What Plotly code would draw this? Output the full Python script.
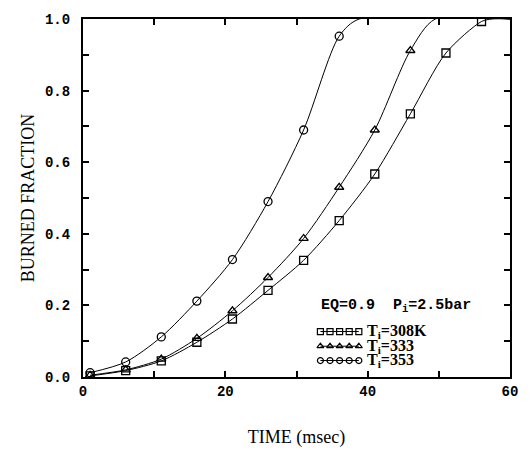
import numpy as np
import plotly.graph_objects as go

# ---- data ----
t_pts = [1, 6, 11, 16, 21, 26, 31, 36, 41, 46, 51, 56]
bf_308 = [0.003, 0.018, 0.045, 0.097, 0.162, 0.242, 0.326, 0.437, 0.567, 0.735, 0.905, 0.993]
bf_333 = [0.005, 0.020, 0.050, 0.108, 0.185, 0.278, 0.387, 0.530, 0.690, 0.912]
bf_353 = [0.012, 0.042, 0.112, 0.212, 0.328, 0.490, 0.690, 0.952]
# times where each curve reaches complete burn (1.0)
t_end = {"308": 57.5, "333": 49.5, "353": 38.8}

series = [
    ("308", bf_308, "square-open", "T<sub>i</sub>=308K"),
    ("333", bf_333, "triangle-up-open", "T<sub>i</sub>=333"),
    ("353", bf_353, "circle-open", "T<sub>i</sub>=353"),
]

x_ticks = [0, 20, 40, 60]
y_ticks = [0.0, 0.2, 0.4, 0.6, 0.8, 1.0]

fig = go.Figure()
mono = "Liberation Mono"
serif = "Liberation Serif"

for key, vals, sym, name in series:
    tx = t_pts[:len(vals)]
    fig.add_trace(go.Scatter(
        x=list(tx) + [t_end[key], 60], y=list(vals) + [1.0, 1.0],
        mode="lines", line=dict(color="black", width=1, shape="spline", smoothing=0.8),
        showlegend=False, hoverinfo="skip"))
    fig.add_trace(go.Scatter(
        x=tx, y=vals, mode="markers",
        marker=dict(symbol=sym, size=8, color="black", line=dict(width=1.3, color="black")),
        showlegend=False, name=name))

# ---- custom legend drawn on an overlay axis (fractions of plot area) ----
leg_rows = [0.127, 0.086, 0.046]
sx = np.linspace(0.556, 0.646, 5)
for (key, vals, sym, name), yy in zip(series, leg_rows):
    fig.add_trace(go.Scatter(
        x=list(sx), y=[yy] * len(sx), xaxis="x2", yaxis="y2",
        mode="lines+markers", line=dict(color="black", width=1),
        marker=dict(symbol=sym, size=6, color="black", line=dict(width=1.2, color="black")),
        showlegend=False, hoverinfo="skip"))
    fig.add_annotation(x=0.660, y=yy, xref="x2", yref="y2", text=name, showarrow=False,
                       xanchor="left", yanchor="middle",
                       font=dict(family=serif, size=16, color="black", weight="bold"))
fig.add_annotation(x=0.552, y=0.198, xref="x2", yref="y2",
                   text="EQ=0.9  P<sub>i</sub>=2.5bar", showarrow=False,
                   xanchor="left", yanchor="middle",
                   font=dict(family=mono, size=15, color="black", weight="bold"))

axis_common = dict(
    showline=True, linecolor="black", linewidth=2, mirror="ticks",
    ticks="inside", ticklen=6, tickwidth=1.5, tickcolor="black",
    showgrid=False, zeroline=False,
    tickfont=dict(family=mono, size=14, color="black", weight="bold"),
)

fig.update_layout(
    width=530, height=460,
    margin=dict(l=83, r=19, t=17, b=83),
    paper_bgcolor="white", plot_bgcolor="white",
    xaxis=dict(range=[0, 60], tickvals=x_ticks, ticktext=[str(v) for v in x_ticks],
               minor=dict(dtick=10, ticks="inside", ticklen=6, tickwidth=1.5, tickcolor="black"),
               title=dict(text="TIME (msec)", font=dict(family=serif, size=18, color="black"), standoff=32),
               **axis_common),
    yaxis=dict(range=[0, 1.0], tickvals=y_ticks, ticktext=[f"{v:.1f}" for v in y_ticks],
               minor=dict(dtick=0.1, ticks="inside", ticklen=6, tickwidth=1.5, tickcolor="black"),
               ticklabelstandoff=8,
               title=dict(text="BURNED FRACTION", font=dict(family=serif, size=18, color="black"), standoff=6),
               **axis_common),
    xaxis2=dict(range=[0, 1], overlaying="x", visible=False, fixedrange=True),
    yaxis2=dict(range=[0, 1], overlaying="y", visible=False, fixedrange=True),
    showlegend=False,
)

fig.write_html("out.html")
